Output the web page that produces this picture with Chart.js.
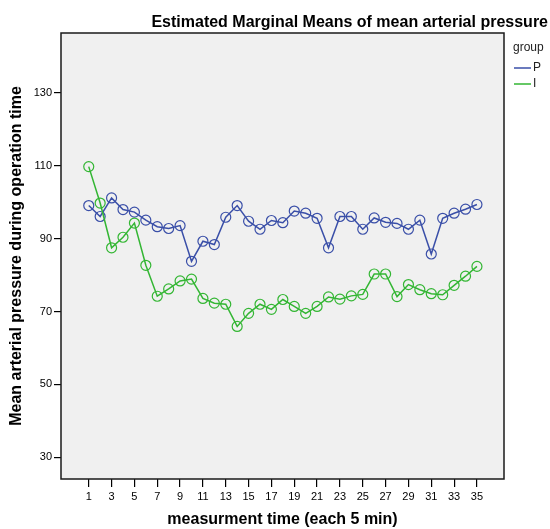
<!DOCTYPE html>
<html lang="en">
<head>
  <meta charset="UTF-8" />
  <title>Estimated Marginal Means of mean arterial pressure</title>
  <script src="https://cdn.jsdelivr.net/npm/chart.js@4.4.0/dist/chart.umd.min.js"></script>
  <style>
    body {
      margin: 0;
      background: #ffffff;
    }
    .wrap {
      width: 550px;
      height: 529px;
      position: relative;
    }
  </style>
</head>
<body>
  <div class="wrap">
    <canvas id="mapChart"></canvas>
  </div>

  <script>
    // measurement times (each 5 min)
    const times = [1, 2, 3, 4, 5, 6, 7, 8, 9, 10, 11, 12, 13, 14, 15, 16, 17, 18,
                   19, 20, 21, 22, 23, 24, 25, 26, 27, 28, 29, 30, 31, 32, 33, 34, 35];
    // group P
    const groupP = [99.1, 96.1, 101.2, 98.0, 97.3, 95.1, 93.3, 92.8, 93.6, 83.8,
                    89.3, 88.4, 95.9, 99.1, 94.8, 92.6, 95.0, 94.4, 97.6, 97.0,
                    95.6, 87.5, 96.1, 96.1, 92.6, 95.7, 94.5, 94.2, 92.6, 95.1,
                    85.8, 95.6, 97.0, 98.1, 99.4];
    // group I
    const groupI = [109.8, 99.8, 87.5, 90.4, 94.3, 82.7, 74.2, 76.2, 78.4, 78.9,
                    73.6, 72.3, 72.0, 65.9, 69.5, 72.0, 70.6, 73.3, 71.4, 69.5,
                    71.4, 74.0, 73.4, 74.3, 74.7, 80.3, 80.3, 74.1, 77.4, 76.0,
                    74.9, 74.6, 77.2, 79.7, 82.4];
    const xTicks = [1, 3, 5, 7, 9, 11, 13, 15, 17, 19, 21, 23, 25, 27, 29, 31, 33, 35];
    const yTicks = [30, 50, 70, 90, 110, 130];

    const FONT = "Arial, 'Liberation Sans', sans-serif";

    function toPoints(values) {
      return values.map((v, i) => ({ x: times[i], y: v }));
    }

    // grey plot background and frame
    const plotFrame = {
      id: 'plotFrame',
      beforeDraw(chart) {
        const { ctx, chartArea: a } = chart;
        ctx.save();
        ctx.fillStyle = '#f0f0f0';
        ctx.fillRect(a.left, a.top, a.right - a.left, a.bottom - a.top);
        ctx.restore();
      },
      beforeDatasetsDraw(chart) {
        const { ctx, chartArea: a } = chart;
        ctx.save();
        ctx.strokeStyle = '#1a1a1a';
        ctx.lineWidth = 1.5;
        ctx.strokeRect(a.left, a.top, a.right - a.left, a.bottom - a.top);
        ctx.restore();
      }
    };

    // title + "group" legend, SPSS style
    const spssText = {
      id: 'spssText',
      afterDraw(chart) {
        const ctx = chart.ctx;
        ctx.save();
        ctx.fillStyle = '#000';
        ctx.font = 'bold 16px ' + FONT;
        ctx.textAlign = 'right';
        ctx.textBaseline = 'alphabetic';
        ctx.fillText('Estimated Marginal Means of mean arterial pressure', 548, 27);

        ctx.font = '12px ' + FONT;
        ctx.textAlign = 'left';
        ctx.textBaseline = 'middle';
        ctx.fillStyle = '#222';
        ctx.fillText('group', 513, 48);
        chart.data.datasets.forEach((ds, i) => {
          const y = 68 + i * 16;
          ctx.strokeStyle = ds.borderColor;
          ctx.lineWidth = 1.5;
          ctx.beginPath();
          ctx.moveTo(514, y);
          ctx.lineTo(531, y);
          ctx.stroke();
          ctx.fillStyle = '#222';
          ctx.fillText(ds.label, 533, y);
        });
        ctx.restore();
      }
    };

    const ctx = document.getElementById('mapChart').getContext('2d');
    new Chart(ctx, {
      type: 'line',
      data: {
        datasets: [
          {
            label: 'P',
            data: toPoints(groupP),
            borderColor: '#3a4fa8',
            backgroundColor: 'rgba(0,0,0,0)',
            borderWidth: 1.5,
            pointRadius: 5,
            pointBorderWidth: 1.2,
            pointBackgroundColor: 'rgba(0,0,0,0)',
            pointBorderColor: '#3a4fa8',
            tension: 0,
            order: 1
          },
          {
            label: 'I',
            data: toPoints(groupI),
            borderColor: '#33b633',
            backgroundColor: 'rgba(0,0,0,0)',
            borderWidth: 1.5,
            pointRadius: 5,
            pointBorderWidth: 1.2,
            pointBackgroundColor: 'rgba(0,0,0,0)',
            pointBorderColor: '#33b633',
            tension: 0,
            order: 0
          }
        ]
      },
      options: {
        responsive: true,
        maintainAspectRatio: false,
        animation: false,
        layout: {
          padding: { top: 33, right: 46, left: 0, bottom: 0 }
        },
        plugins: {
          legend: { display: false },
          tooltip: { enabled: false },
          title: { display: false }
        },
        scales: {
          x: {
            type: 'linear',
            min: -1.43,
            max: 37.37,
            afterBuildTicks(scale) {
              scale.ticks = xTicks.map(v => ({ value: v }));
            },
            afterFit(scale) {
              scale.height = 50;
            },
            border: { display: false },
            grid: {
              drawOnChartArea: false,
              drawTicks: true,
              tickLength: 8,
              color: '#000',
              lineWidth: 1.2
            },
            ticks: {
              font: { family: FONT, size: 11 },
              color: '#000',
              padding: 3,
              maxRotation: 0,
              autoSkip: false
            },
            title: {
              display: true,
              text: 'measurment time (each 5 min)',
              font: { family: FONT, size: 16, weight: 'bold', lineHeight: 1.2 },
              color: '#000',
              padding: { top: 0, bottom: 0 }
            }
          },
          y: {
            min: 24,
            max: 146.5,
            afterBuildTicks(scale) {
              scale.ticks = yTicks.map(v => ({ value: v }));
            },
            afterFit(scale) {
              scale.width = 61;
            },
            border: { display: false },
            grid: {
              drawOnChartArea: false,
              drawTicks: true,
              tickLength: 7,
              color: '#000',
              lineWidth: 1.2
            },
            ticks: {
              font: { family: FONT, size: 11 },
              color: '#000',
              padding: 2
            },
            title: {
              display: true,
              text: 'Mean arterial pressure during operation time',
              font: { family: FONT, size: 16, weight: 'bold', lineHeight: 1.2 },
              color: '#000',
              padding: { top: 7, bottom: 0 }
            }
          }
        }
      },
      plugins: [plotFrame, spssText]
    });
  </script>
</body>
</html>
